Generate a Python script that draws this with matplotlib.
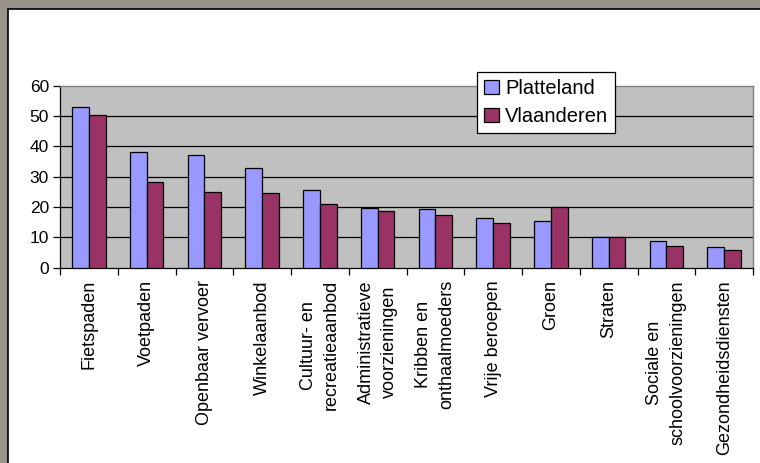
import matplotlib
matplotlib.use("Agg")
import matplotlib.pyplot as plt
from matplotlib.patches import Rectangle
import numpy as np

categories = ["Fietspaden", "Voetpaden", "Openbaar vervoer", "Winkelaanbod",
              "Cultuur- en\nrecreatieaanbod", "Administratieve\nvoorzieningen",
              "Kribben en\nonthaalmoeders", "Vrije beroepen", "Groen", "Straten",
              "Sociale en\nschoolvoorzieningen", "Gezondheidsdiensten"]
platteland = [53.0, 38.0, 37.1, 32.8, 25.5, 19.8, 19.3, 16.3, 15.5, 10.2, 8.8, 6.8]
vlaanderen = [50.4, 28.4, 25.0, 24.5, 21.1, 18.7, 17.4, 14.8, 20.1, 10.2, 7.3, 5.7]
yticks = [0, 10, 20, 30, 40, 50, 60]

plt.rcParams['font.family'] = ['Liberation Sans', 'DejaVu Sans']

W, H = 760, 463
fig = plt.figure(figsize=(W / 100, H / 100), dpi=100)
fig.patch.set_facecolor('#98948A')
bg = Rectangle((8 / W, -0.05), 1.1, 1 - 9 / H + 0.05,
               transform=fig.transFigure, facecolor='white',
               edgecolor='black', linewidth=1.2, zorder=-10)
fig.patches.append(bg)

ax = fig.add_axes([60 / W, (H - 267.7) / H, (753 - 60) / W, (267.7 - 85.7) / H])
ax.set_zorder(1)
ax.set_facecolor('#C0C0C0')

x = np.arange(len(categories))
bw = 0.29
ax.bar(x - bw / 2, platteland, bw, color='#9999FF', edgecolor='black', linewidth=0.9,
       label='Platteland', zorder=3)
ax.bar(x + bw / 2, vlaanderen, bw, color='#993366', edgecolor='black', linewidth=0.9,
       label='Vlaanderen', zorder=3)

ax.set_xlim(-0.5, len(categories) - 0.5)
ax.set_ylim(0, 60)
ax.set_yticks(yticks)
ax.set_yticklabels([str(v) for v in yticks], fontsize=12.5)
for v in yticks[1:-1]:
    ax.axhline(v, color='black', linewidth=0.9, zorder=1)

ax.set_xticks(np.arange(len(categories) + 1) - 0.5)
ax.set_xticklabels([])
ax.set_xticks(x, minor=True)
ax.set_xticklabels(categories, minor=True, rotation=90, fontsize=13,
                   ha='center', va='top', multialignment='center', linespacing=1.45)
ax.tick_params(axis='x', which='minor', length=0, pad=9)
ax.tick_params(axis='x', which='major', length=5, width=0.9, direction='out')
ax.tick_params(axis='y', length=5, width=0.9, direction='out', pad=3)

for s in ['top', 'right']:
    ax.spines[s].set_color('#808080')
    ax.spines[s].set_linewidth(1.0)
for s in ['left', 'bottom']:
    ax.spines[s].set_color('black')
    ax.spines[s].set_linewidth(0.9)

leg = fig.legend(loc='upper left', bbox_to_anchor=(477 / W, 1 - 72 / H),
                 fontsize=14.5, frameon=True, fancybox=False, framealpha=1,
                 edgecolor='black', handlelength=0.75, handleheight=0.75,
                 handletextpad=0.3, borderpad=0.35, labelspacing=0.45,
                 borderaxespad=0)
leg.get_frame().set_linewidth(0.9)
leg.set_zorder(5)

fig.savefig('out.png', dpi=100, facecolor=fig.get_facecolor())
